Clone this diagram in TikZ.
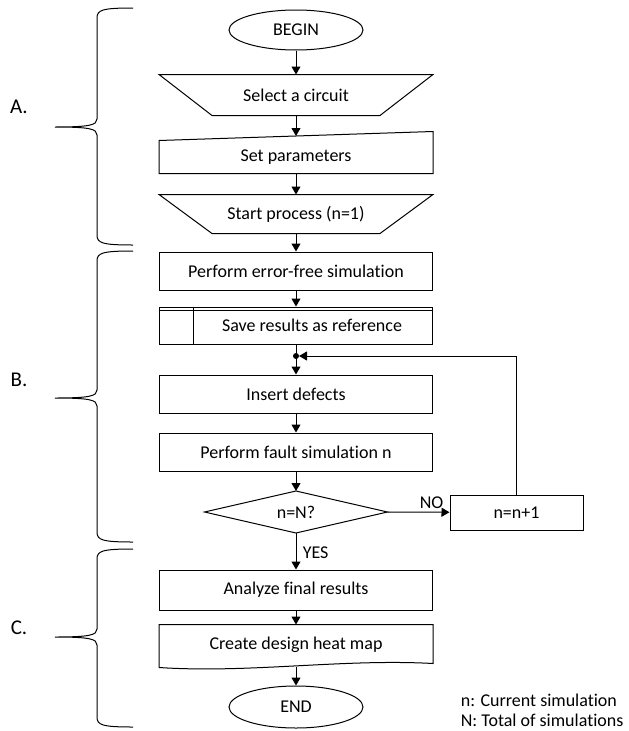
\documentclass[tikz,border=0pt]{standalone}
\usepackage{fontspec}
\setmainfont{Carlito}[Ligatures={NoCommon}]
\usetikzlibrary{shapes.geometric,arrows.meta}

\tikzset{
  flowbox/.style={draw, rectangle, minimum width=273pt, minimum height=38pt, inner sep=0pt},
  blankbox/.style={rectangle, minimum width=273pt, inner sep=0pt},
  terminal/.style={draw, ellipse, minimum width=134pt, minimum height=40pt, inner sep=0pt},
  flowarrow/.style={-{Triangle[length=8pt,width=9pt]}},
  partlabel/.style={font=\fontsize{21}{24}\selectfont},
}

\begin{document}
\begin{tikzpicture}[x=1pt, y=-1pt, line width=1pt, font=\fontsize{18}{21}\selectfont]
  \useasboundingbox (0,0) rectangle (629,731);

  % Part labels A., B., C. with their braces (tip x=55, spine x=97, ends x=133)
  \node[partlabel] (labA) at (19,107) {A.};
  \node[partlabel] (labB) at (19,380) {B.};
  \node[partlabel] (labC) at (19,628) {C.};
  \foreach \ytop/\ytip/\ybot in {8/127/245, 251/398/542, 549/637/727} {
    \draw (133,\ytop) .. controls (102,\ytop) and (97,\ytop+2) .. (97,\ytop+10) -- (97,\ytip-8)
      .. controls (97,\ytip-2) and (90,\ytip) .. (55,\ytip)
      .. controls (90,\ytip) and (97,\ytip+2) .. (97,\ytip+8) -- (97,\ybot-10)
      .. controls (97,\ybot-2) and (102,\ybot) .. (133,\ybot);
  }

  % Part A: set-up
  \node[terminal] (begin) at (296,30) {BEGIN};
  \node[blankbox, minimum height=40pt] (select) at (296,95) {Select a circuit};
  \draw (select.north west) -- (select.north east) -- ([xshift=-53pt]select.south east) -- ([xshift=53pt]select.south west) -- cycle;
  \node[blankbox, minimum height=32pt] (params) at (296,157) {Set parameters};
  \draw ([yshift=9pt]params.north east) -- (params.south east) -- (params.south west) -- (params.north west) -- cycle;
  \node[blankbox, minimum height=38pt] (start) at (296,214) {Start process (n=1)};
  \draw (start.north west) -- (start.north east) -- ([xshift=-53pt]start.south east) -- ([xshift=53pt]start.south west) -- cycle;

  % Part B: simulations
  \node[flowbox] (errfree) at (296,271) {Perform error-free simulation};
  \node[flowbox, minimum height=37pt] (saveref) at (296,325.5) {\hspace*{32pt}Save results as reference};
  \draw ([yshift=-4pt]saveref.north west) -- ([yshift=-4pt]saveref.north east);
  \draw ([xshift=34pt]saveref.north west) -- ([xshift=34pt]saveref.south west);
  \coordinate (merge) at (296,356);
  \node[flowbox] (defects) at (296,394) {Insert defects};
  \node[flowbox] (faultsim) at (296,452) {Perform fault simulation n};
  \node[blankbox, minimum width=182pt, minimum height=41pt] (check) at (296,512) {n=N?};
  \draw (check.north) -- (check.east) -- (check.south) -- (check.west) -- cycle;
  \node[flowbox, minimum width=133pt, minimum height=35pt] (incr) at (516.5,512.5) {n=n+1};

  % Part C: results
  \node[flowbox, minimum height=40pt] (analyze) at (296,590) {Analyze final results};
  \node[blankbox, minimum height=40pt] (heatmap) at (296,645) {Create design heat map};
  \draw ([yshift=-2pt]heatmap.south west) -- (heatmap.north west) -- (heatmap.north east) -- ([yshift=2pt]heatmap.south east)
    .. controls +(-90pt,5pt) and +(90pt,-6pt) .. ([yshift=-2pt]heatmap.south west);
  \node[terminal, minimum height=42pt] (finish) at (296,707) {END};

  % Legend
  \node[anchor=west] (legn) at (457,700) {n: Current simulation};
  \node[anchor=west] (legN) at (457,720) {N: Total of simulations};

  % Connectors
  \draw[flowarrow] (begin) -- (select);
  \draw[flowarrow] (select) -- ([yshift=4.5pt]params.north);
  \draw[flowarrow] (params) -- (start);
  \draw[flowarrow] (start) -- (errfree);
  \draw[flowarrow] (errfree) -- (saveref);
  \draw[flowarrow] (saveref) -- (defects);
  \fill (merge) circle (3pt);
  \draw[flowarrow] (incr.north) |- ([xshift=3pt]merge);
  \draw[flowarrow] (defects) -- (faultsim);
  \draw[flowarrow] (faultsim) -- (check.north);
  \draw[flowarrow] (check.east) -- node[above, pos=0.71] {NO} (incr);
  \draw[flowarrow] (check.south) -- node[right, xshift=3pt, pos=0.54] {YES} (analyze);
  \draw[flowarrow] (analyze) -- (heatmap);
  \draw[flowarrow] ([yshift=-1pt]heatmap.south) -- (finish);
\end{tikzpicture}
\end{document}
